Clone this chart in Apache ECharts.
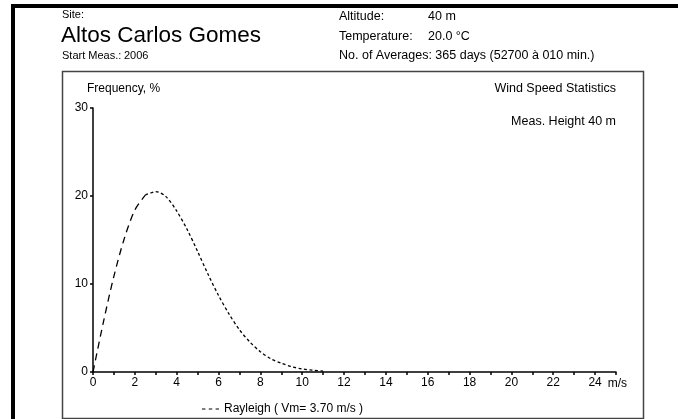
<!DOCTYPE html>
<html><head><meta charset="utf-8">
<script src="https://cdn.jsdelivr.net/npm/echarts@6/dist/echarts.min.js"></script>
<style>html,body{margin:0;padding:0;background:#fff}#c{width:678px;height:419px}</style>
</head><body><div id="c"></div>
<script>
// ---- data ----
const windSpeeds = [0,0.5,1,1.5,2,2.5,3,3.5,4,4.5,5,5.5,6,6.5,7,7.5,8,8.5,9,9.5,10,10.5,11];
const frequencies = [0,5.7,10.9,15.2,18.4,20.1,20.5,19.9,18.3,16.2,13.7,11.1,8.7,6.6,4.8,3.4,2.3,1.5,1.0,0.6,0.35,0.2,0.1];
const peakIndex = 5; // rising part (long dashes) ends here
const xTickLabels = [0,2,4,6,8,10,12,14,16,18,20,22,24];
const yTickLabels = [0,10,20,30];
const seriesName = 'Rayleigh ( Vm= 3.70 m/s )';
const siteLabel = 'Site:';
const siteName = 'Altos Carlos Gomes';
const startLabel = 'Start Meas.:';
const startValue = '2006';
const infoLabels = ['Altitude:', 'Temperature:', 'No. of Averages:'];
const infoValues = ['40 m', '20.0 °C', '365 days (52700 à 010 min.)'];
const chartTitle = 'Wind Speed Statistics';
const chartSubtitle = 'Meas. Height 40 m';
const yAxisName = 'Frequency, %';
const xUnit = 'm/s';

const FONT = '"Liberation Sans", Arial, sans-serif';
const FS = 12;
const pts = windSpeeds.map((v, i) => [v, frequencies[i]]);

const chart = echarts.init(document.getElementById('c'), null, {renderer: 'canvas'});
const txt = (x, y, s, size) => ({
  type: 'text', left: x, top: y,
  style: {text: s, fill: '#000', font: size + 'px ' + FONT}
});

chart.setOption({
  animation: false,
  backgroundColor: '#fff',
  color: ['#000'],
  graphic: [
    {type: 'rect', shape: {x: 13, y: 6, width: 720, height: 460}, style: {fill: 'none', stroke: '#000', lineWidth: 4}, silent: true},
    {type: 'rect', shape: {x: 62.5, y: 71.5, width: 581, height: 347}, style: {fill: 'none', stroke: '#444', lineWidth: 1.5}, silent: true},
    txt(62, 9, siteLabel, 11),
    txt(61, 24, siteName, 22.5),
    txt(62, 50, startLabel, 11),
    txt(124, 50, startValue, 11),
    txt(339, 10, infoLabels[0], 12.5),
    txt(428, 10, infoValues[0], 12.5),
    txt(339, 30, infoLabels[1], 12.5),
    txt(428, 30, infoValues[1], 12.5),
    txt(339, 49, infoLabels[2] + ' ' + infoValues[2], 12.5),
    {type: 'text', right: 62, top: 82, style: {text: chartTitle, fill: '#000', font: '12.5px ' + FONT}},
    {type: 'text', right: 62, top: 115, style: {text: chartSubtitle, fill: '#000', font: '12.5px ' + FONT}}
  ],
  grid: {left: 93, right: 62, top: 108, bottom: 47, containLabel: false},
  legend: {
    data: [seriesName], left: 197, top: 398, itemWidth: 17, itemHeight: 2, itemGap: 6,
    icon: 'path://M0,0h3v1h-3z M6,0h3v1h-3z M12,0h3v1h-3z',
    textStyle: {fontFamily: FONT, fontSize: FS, color: '#000'}
  },
  xAxis: {
    type: 'value', min: 0, max: 25, interval: 1,
    name: xUnit, nameLocation: 'end', nameGap: -9,
    nameTextStyle: {fontFamily: FONT, fontSize: FS, color: '#000', verticalAlign: 'top', padding: [6, 0, 0, 0]},
    axisLine: {lineStyle: {color: '#000', width: 1.5}},
    axisTick: {show: true, inside: false, length: 3, lineStyle: {color: '#000', width: 1.5}},
    splitLine: {show: false},
    axisLabel: {
      margin: 5, fontFamily: FONT, fontSize: FS, color: '#000',
      formatter: v => xTickLabels.indexOf(v) >= 0 ? String(v) : ''
    }
  },
  yAxis: {
    type: 'value', min: 0, max: 30, interval: 10,
    name: yAxisName, nameLocation: 'end', nameGap: 13,
    nameTextStyle: {fontFamily: FONT, fontSize: FS, color: '#000', align: 'left', padding: [0, 0, 0, -6]},
    axisLine: {show: true, lineStyle: {color: '#000', width: 1.5}},
    axisTick: {show: true, inside: false, length: 3, lineStyle: {color: '#000', width: 1.5}},
    splitLine: {show: false},
    axisLabel: {
      margin: 5, fontFamily: FONT, fontSize: FS, color: '#000',
      formatter: v => yTickLabels.indexOf(v) >= 0 ? String(v) : ''
    }
  },
  series: [
    {
      name: 'rise', type: 'line', data: pts.slice(0, peakIndex + 1), symbol: 'none', smooth: 0.3,
      itemStyle: {color: '#000'},
      lineStyle: {color: '#000', width: 1.3, type: [7, 5]}, silent: true, z: 3
    },
    {
      name: seriesName, type: 'line', data: pts.slice(peakIndex), symbol: 'none', smooth: 0.3,
      itemStyle: {color: '#000'},
      lineStyle: {color: '#000', width: 1.3, type: [3, 2.5]}, silent: true, z: 3
    }
  ]
});
</script>
</body></html>
